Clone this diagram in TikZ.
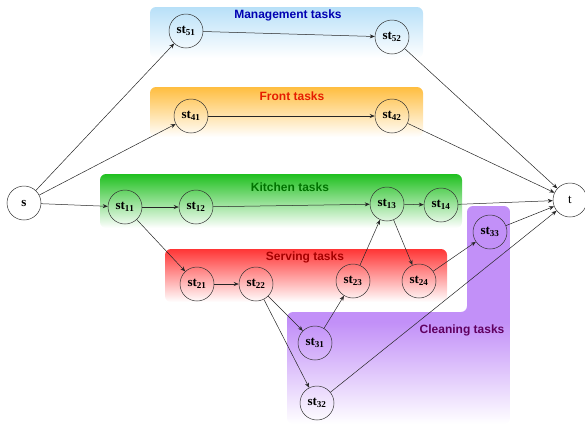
\documentclass[tikz,border=0pt]{standalone}
\usepackage{fontspec}
\setmainfont{Liberation Serif}
\setsansfont{Liberation Sans}
\usepackage{xcolor}
\usetikzlibrary{arrows.meta}

\definecolor{mgmtc}{HTML}{B8E0F8}
\definecolor{frontc}{HTML}{FFBE40}
\definecolor{kitchc}{HTML}{20C020}
\definecolor{servc}{HTML}{FF3535}
\definecolor{cleanc}{HTML}{C290F8}

\begin{document}
\begin{tikzpicture}[x=1pt, y=-1pt,
  task/.style={circle, draw=black!80, line width=0.5pt, minimum size=34pt, inner sep=0pt,
               font=\bfseries\fontsize{13}{13}\selectfont},
  band/.style={rounded corners=6pt},
  lbl/.style={font=\sffamily\bfseries\fontsize{12}{13}\selectfont},
  flow/.style={-{Stealth[length=5pt,width=4pt]}, draw=black!85, line width=0.5pt}
]
\useasboundingbox (0,0) rectangle (585,424);

% task groups
\shade[band, top color=mgmtc, bottom color=white] (150,7) rectangle (423,58);
\shade[band, top color=frontc, bottom color=white] (150,87) rectangle (423,137);
\shade[band, top color=kitchc, bottom color=white] (100,174) rectangle (462,228);
\shade[band, top color=servc, bottom color=white] (165,249) rectangle (447,302);
\begin{scope}
  \clip[band] (467,206) -- (510,206) -- (510,424) -- (287,424) -- (287,312) -- (467,312) -- cycle;
  \fill[cleanc] (287,206) rectangle (510,322);
  \shade[top color=cleanc, bottom color=white] (287,322) rectangle (510,424);
\end{scope}

\node[lbl, text=blue!70!black] (mlbl) at (288,15)  {Management tasks};
\node[lbl, text=red!75!orange!90!black] (flbl) at (292,96)  {Front tasks};
\node[lbl, text=green!45!black] (klbl) at (290,187) {Kitchen tasks};
\node[lbl, text=red!65!black]  (slbl) at (305,257) {Serving tasks};
\node[lbl, text=violet!75!black] (clbl) at (462,330) {Cleaning tasks};

% tasks
\node[task] (s)    at (24,203)  {s};
\node[task, font=\fontsize{13}{13}\selectfont] (t) at (570,200) {t};
\node[task] (st51) at (186,31)  {st$_{\mathbf{51}}$};
\node[task] (st52) at (392,37)  {st$_{\mathbf{52}}$};
\node[task] (st41) at (191,116) {st$_{\mathbf{41}}$};
\node[task] (st42) at (392,116) {st$_{\mathbf{42}}$};
\node[task] (st11) at (125,207) {st$_{\mathbf{11}}$};
\node[task] (st12) at (196,207) {st$_{\mathbf{12}}$};
\node[task] (st13) at (387,204) {st$_{\mathbf{13}}$};
\node[task] (st14) at (441,205) {st$_{\mathbf{14}}$};
\node[task] (st21) at (197,284) {st$_{\mathbf{21}}$};
\node[task] (st22) at (256,284) {st$_{\mathbf{22}}$};
\node[task] (st23) at (353,281) {st$_{\mathbf{23}}$};
\node[task] (st24) at (419,281) {st$_{\mathbf{24}}$};
\node[task] (st31) at (315,343) {st$_{\mathbf{31}}$};
\node[task] (st32) at (317,403) {st$_{\mathbf{32}}$};
\node[task] (st33) at (490,232) {st$_{\mathbf{33}}$};

% precedences
\draw[flow] (s) -- (st51);
\draw[flow] (s) -- (st41);
\draw[flow] (s) -- (st11);
\draw[flow] (st51) -- (st52);
\draw[flow] (st41) -- (st42);
\draw[flow] (st52) -- (t);
\draw[flow] (st42) -- (t);
\draw[flow] (st11) -- (st12);
\draw[flow] (st12) -- (st13);
\draw[flow] (st13) -- (st14);
\draw[flow] (st14) -- (t);
\draw[flow] (st11) -- (st21);
\draw[flow] (st21) -- (st22);
\draw[flow] (st22) -- (st31);
\draw[flow] (st22) -- (st32);
\draw[flow] (st31) -- (st23);
\draw[flow] (st23) -- (st13);
\draw[flow] (st13) -- (st24);
\draw[flow] (st24) -- (st33);
\draw[flow] (st33) -- (t);
\draw[flow] (st32) -- (t);
\end{tikzpicture}
\end{document}
